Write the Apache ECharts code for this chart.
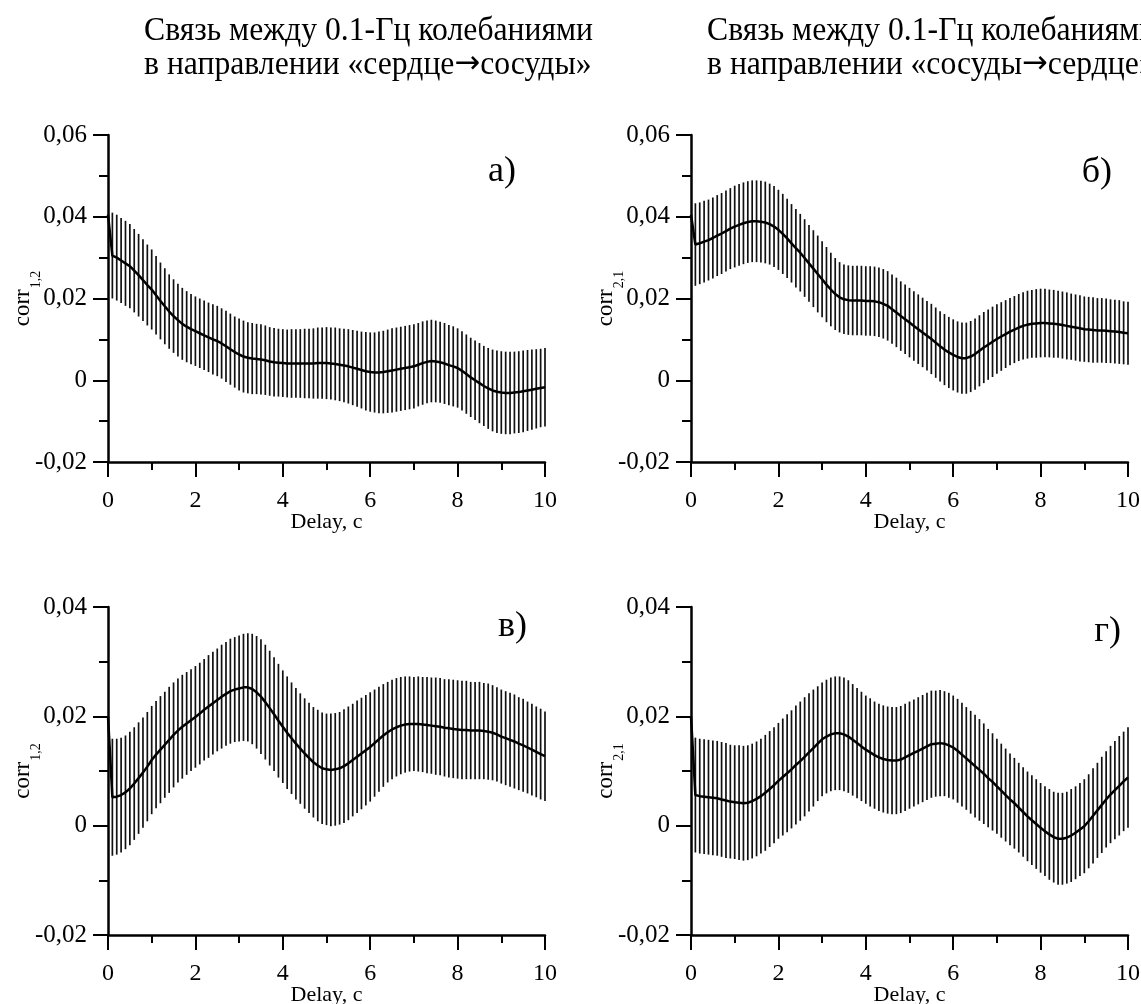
<!DOCTYPE html>
<html><head><meta charset="utf-8">
<script src="https://cdn.jsdelivr.net/npm/echarts@6/dist/echarts.min.js"></script>
<style>html,body{margin:0;padding:0;background:#fff}#c{width:1141px;height:1004px}</style>
</head><body><div id="c"></div>
<script>
// ---- data ----
const TITLE_LEFT = ['Связь между 0.1-Гц колебаниями', 'в направлении «сердце', '→', 'сосуды»'];
const TITLE_RIGHT = ['Связь между 0.1-Гц колебаниями', 'в направлении «сосуды', '→', 'сердце»'];
const PANEL_LABELS = ['а)', 'б)', 'в)', 'г)'];
const X_NAME = 'Delay, c';
// delays of the error-bar samples: 0.1 … 10 s, step 0.1 s
const DELAYS = Array.from({length: 100}, (_, i) => +((i + 1) / 10).toFixed(1));
// value of each curve at delay 0
const START_A = 0.0405, START_B = 0.0405, START_C = 0.0200, START_D = 0.0200;

const MEAN_A = [0.0305,0.0300,0.0293,0.0286,0.0279,0.0268,0.0257,0.0245,0.0233,0.0222,
 0.0208,0.0194,0.0181,0.0168,0.0157,0.0147,0.0138,0.0131,0.0125,0.0120,
 0.0115,0.0110,0.0105,0.0100,0.0096,0.0090,0.0083,0.0076,0.0069,0.0063,
 0.0058,0.0055,0.0053,0.0052,0.0051,0.0049,0.0046,0.0044,0.0043,0.0042,
 0.0041,0.0041,0.0041,0.0041,0.0041,0.0041,0.0041,0.0042,0.0042,0.0042,
 0.0041,0.0040,0.0038,0.0036,0.0034,0.0031,0.0028,0.0025,0.0022,0.0020,
 0.0019,0.0019,0.0020,0.0022,0.0024,0.0026,0.0028,0.0030,0.0032,0.0034,
 0.0038,0.0042,0.0045,0.0047,0.0046,0.0044,0.0041,0.0037,0.0034,0.0030,
 0.0023,0.0015,0.0007,0.0000,-0.0007,-0.0014,-0.0020,-0.0025,-0.0028,-0.0030,
 -0.0031,-0.0031,-0.0030,-0.0029,-0.0027,-0.0025,-0.0023,-0.0021,-0.0019,-0.0017];
const ERR_A = [0.0105,0.0105,0.0104,0.0104,0.0103,0.0102,0.0101,0.0100,0.0099,0.0098,
 0.0096,0.0094,0.0093,0.0091,0.0090,0.0089,0.0088,0.0087,0.0086,0.0085,
 0.0085,0.0085,0.0085,0.0086,0.0086,0.0086,0.0087,0.0087,0.0087,0.0088,
 0.0088,0.0087,0.0087,0.0086,0.0086,0.0085,0.0084,0.0084,0.0083,0.0083,
 0.0083,0.0084,0.0084,0.0084,0.0085,0.0085,0.0086,0.0087,0.0087,0.0088,
 0.0088,0.0089,0.0089,0.0090,0.0091,0.0092,0.0093,0.0094,0.0096,0.0097,
 0.0098,0.0100,0.0101,0.0102,0.0103,0.0103,0.0103,0.0103,0.0103,0.0103,
 0.0102,0.0102,0.0101,0.0101,0.0100,0.0099,0.0099,0.0098,0.0098,0.0097,
 0.0097,0.0097,0.0097,0.0097,0.0098,0.0098,0.0099,0.0100,0.0101,0.0101,
 0.0101,0.0101,0.0100,0.0100,0.0100,0.0099,0.0098,0.0097,0.0096,0.0096];

const MEAN_B = [0.0332,0.0335,0.0339,0.0343,0.0348,0.0354,0.0359,0.0365,0.0371,0.0376,
 0.0380,0.0384,0.0387,0.0389,0.0389,0.0388,0.0386,0.0382,0.0376,0.0368,
 0.0358,0.0347,0.0335,0.0323,0.0312,0.0299,0.0286,0.0273,0.0260,0.0247,
 0.0234,0.0222,0.0211,0.0203,0.0198,0.0196,0.0195,0.0195,0.0195,0.0194,
 0.0194,0.0193,0.0191,0.0187,0.0182,0.0174,0.0166,0.0157,0.0149,0.0141,
 0.0133,0.0125,0.0117,0.0109,0.0101,0.0092,0.0083,0.0075,0.0068,0.0062,
 0.0057,0.0054,0.0054,0.0058,0.0064,0.0072,0.0080,0.0087,0.0094,0.0101,
 0.0107,0.0113,0.0119,0.0124,0.0129,0.0133,0.0136,0.0138,0.0139,0.0140,
 0.0140,0.0139,0.0138,0.0137,0.0135,0.0133,0.0131,0.0129,0.0127,0.0125,
 0.0124,0.0123,0.0122,0.0122,0.0121,0.0120,0.0119,0.0118,0.0116,0.0115];
const ERR_B = [0.0101,0.0100,0.0100,0.0099,0.0099,0.0099,0.0099,0.0099,0.0099,0.0100,
 0.0100,0.0100,0.0100,0.0100,0.0100,0.0100,0.0100,0.0099,0.0099,0.0098,
 0.0098,0.0097,0.0096,0.0096,0.0095,0.0095,0.0094,0.0094,0.0094,0.0093,
 0.0092,0.0090,0.0088,0.0086,0.0085,0.0085,0.0085,0.0085,0.0085,0.0085,
 0.0085,0.0085,0.0085,0.0085,0.0085,0.0085,0.0085,0.0085,0.0085,0.0085,
 0.0085,0.0085,0.0085,0.0085,0.0086,0.0086,0.0086,0.0087,0.0087,0.0087,
 0.0087,0.0087,0.0087,0.0087,0.0087,0.0087,0.0087,0.0086,0.0086,0.0085,
 0.0084,0.0083,0.0082,0.0082,0.0082,0.0082,0.0083,0.0083,0.0084,0.0084,
 0.0084,0.0083,0.0083,0.0082,0.0082,0.0082,0.0081,0.0081,0.0081,0.0080,
 0.0080,0.0080,0.0079,0.0079,0.0079,0.0078,0.0078,0.0078,0.0077,0.0077];

const MEAN_C = [0.0052,0.0053,0.0056,0.0061,0.0068,0.0077,0.0087,0.0097,0.0108,0.0120,
 0.0130,0.0139,0.0148,0.0157,0.0166,0.0174,0.0181,0.0187,0.0193,0.0199,
 0.0205,0.0212,0.0218,0.0224,0.0230,0.0236,0.0241,0.0246,0.0249,0.0251,
 0.0253,0.0253,0.0250,0.0244,0.0236,0.0226,0.0215,0.0204,0.0192,0.0181,
 0.0170,0.0160,0.0150,0.0141,0.0132,0.0124,0.0116,0.0110,0.0105,0.0103,
 0.0102,0.0103,0.0105,0.0109,0.0114,0.0120,0.0126,0.0132,0.0138,0.0144,
 0.0151,0.0158,0.0165,0.0171,0.0176,0.0180,0.0183,0.0185,0.0186,0.0186,
 0.0186,0.0185,0.0184,0.0183,0.0182,0.0181,0.0179,0.0178,0.0177,0.0176,
 0.0175,0.0175,0.0174,0.0174,0.0174,0.0173,0.0172,0.0170,0.0167,0.0163,
 0.0160,0.0157,0.0154,0.0150,0.0147,0.0143,0.0139,0.0135,0.0131,0.0127];
const ERR_C = [0.0107,0.0106,0.0105,0.0104,0.0104,0.0103,0.0102,0.0101,0.0100,0.0099,
 0.0098,0.0098,0.0097,0.0097,0.0096,0.0095,0.0095,0.0094,0.0093,0.0093,
 0.0093,0.0093,0.0094,0.0094,0.0094,0.0095,0.0095,0.0096,0.0096,0.0097,
 0.0098,0.0099,0.0101,0.0103,0.0105,0.0105,0.0105,0.0104,0.0104,0.0103,
 0.0103,0.0102,0.0102,0.0101,0.0101,0.0101,0.0101,0.0102,0.0102,0.0102,
 0.0103,0.0103,0.0103,0.0104,0.0104,0.0103,0.0103,0.0102,0.0101,0.0100,
 0.0098,0.0096,0.0094,0.0092,0.0091,0.0090,0.0089,0.0088,0.0087,0.0086,
 0.0087,0.0087,0.0088,0.0088,0.0089,0.0089,0.0089,0.0090,0.0090,0.0090,
 0.0090,0.0090,0.0089,0.0089,0.0089,0.0088,0.0088,0.0087,0.0086,0.0086,
 0.0086,0.0086,0.0086,0.0085,0.0085,0.0084,0.0084,0.0083,0.0083,0.0082];

const MEAN_D = [0.0056,0.0054,0.0053,0.0052,0.0051,0.0050,0.0048,0.0046,0.0044,0.0043,
 0.0042,0.0041,0.0042,0.0045,0.0049,0.0054,0.0060,0.0067,0.0074,0.0082,
 0.0089,0.0096,0.0103,0.0111,0.0118,0.0126,0.0134,0.0142,0.0150,0.0158,
 0.0163,0.0167,0.0169,0.0169,0.0167,0.0163,0.0157,0.0151,0.0145,0.0139,
 0.0134,0.0129,0.0125,0.0122,0.0120,0.0119,0.0119,0.0121,0.0125,0.0129,
 0.0133,0.0137,0.0141,0.0145,0.0149,0.0150,0.0151,0.0150,0.0147,0.0143,
 0.0137,0.0130,0.0123,0.0116,0.0109,0.0102,0.0095,0.0087,0.0080,0.0072,
 0.0064,0.0056,0.0048,0.0041,0.0033,0.0025,0.0017,0.0010,0.0003,-0.0004,
 -0.0010,-0.0016,-0.0021,-0.0024,-0.0024,-0.0022,-0.0018,-0.0013,-0.0007,-0.0001,
 0.0008,0.0018,0.0028,0.0038,0.0048,0.0057,0.0065,0.0073,0.0081,0.0088];
const ERR_D = [0.0105,0.0105,0.0105,0.0105,0.0105,0.0105,0.0105,0.0105,0.0104,0.0104,
 0.0105,0.0105,0.0105,0.0105,0.0105,0.0105,0.0106,0.0106,0.0106,0.0106,
 0.0107,0.0108,0.0108,0.0109,0.0109,0.0109,0.0108,0.0107,0.0105,0.0104,
 0.0104,0.0104,0.0104,0.0104,0.0104,0.0103,0.0102,0.0101,0.0100,0.0099,
 0.0099,0.0098,0.0098,0.0098,0.0098,0.0098,0.0098,0.0098,0.0098,0.0098,
 0.0098,0.0098,0.0098,0.0098,0.0098,0.0097,0.0097,0.0096,0.0096,0.0095,
 0.0095,0.0095,0.0094,0.0094,0.0094,0.0093,0.0092,0.0090,0.0089,0.0087,
 0.0086,0.0085,0.0084,0.0083,0.0082,0.0082,0.0082,0.0082,0.0082,0.0082,
 0.0082,0.0083,0.0083,0.0084,0.0084,0.0084,0.0085,0.0085,0.0085,0.0086,
 0.0086,0.0087,0.0087,0.0088,0.0088,0.0089,0.0090,0.0091,0.0091,0.0092];

const Y_RANGES = [[-0.02, 0.06], [-0.02, 0.06], [-0.02, 0.04], [-0.02, 0.04]];
const Y_SUBS = ['1,2', '2,1', '1,2', '2,1'];

// ---- chart ----
const FONT = '"Liberation Serif", "Times New Roman", serif';
const GRIDS = [
  {left: 108, top: 135, width: 437, height: 327, outerBoundsMode: 'none', containLabel: false},
  {left: 691, top: 135, width: 437, height: 327, outerBoundsMode: 'none', containLabel: false},
  {left: 108, top: 607, width: 437, height: 328, outerBoundsMode: 'none', containLabel: false},
  {left: 691, top: 607, width: 437, height: 328, outerBoundsMode: 'none', containLabel: false}
];
const PANELS = [
  {start: START_A, mean: MEAN_A, err: ERR_A},
  {start: START_B, mean: MEAN_B, err: ERR_B},
  {start: START_C, mean: MEAN_C, err: ERR_C},
  {start: START_D, mean: MEAN_D, err: ERR_D}
];
const LABEL_POS = [[516, 172], [1112, 173], [527, 627], [1121, 632]];

const fmt = v => {
  if (Math.abs(v) < 1e-9) return '0';
  return v.toFixed(2).replace('.', ',');
};
const axisLineStyle = {color: '#000', width: 2.5};

const xAxes = GRIDS.map((g, i) => ({
  type: 'value', gridIndex: i, min: 0, max: 10, interval: 2,
  axisLine: {show: true, onZero: false, lineStyle: axisLineStyle},
  axisTick: {show: true, length: 15, lineStyle: {color: '#000', width: 2}},
  minorTick: {show: true, splitNumber: 2, length: 8, lineStyle: {color: '#000', width: 2}},
  splitLine: {show: false},
  axisLabel: {color: '#000', fontFamily: FONT, fontSize: 24, margin: 27, hideOverlap: false},
  name: X_NAME, nameLocation: 'middle', nameGap: 49, nameMoveOverlap: false,
  nameTextStyle: {color: '#000', fontFamily: FONT, fontSize: 22}
}));
const yAxes = GRIDS.map((g, i) => ({
  type: 'value', gridIndex: i, min: Y_RANGES[i][0], max: Y_RANGES[i][1], interval: 0.02,
  axisLine: {show: true, onZero: false, lineStyle: axisLineStyle},
  axisTick: {show: true, length: 15, lineStyle: {color: '#000', width: 2}},
  minorTick: {show: true, splitNumber: 2, length: 9, lineStyle: {color: '#000', width: 2}},
  splitLine: {show: false},
  axisLabel: {color: '#000', fontFamily: FONT, fontSize: 25, margin: 21, formatter: fmt},
  name: '{a|corr}{s|' + Y_SUBS[i] + '}', nameLocation: 'middle', nameGap: 65, nameMoveOverlap: false,
  nameTextStyle: {
    color: '#000', fontFamily: FONT,
    rich: {
      a: {fontFamily: FONT, fontSize: 23, color: '#000', lineHeight: 32, verticalAlign: 'top'},
      s: {fontFamily: FONT, fontSize: 14, color: '#000', lineHeight: 32, verticalAlign: 'top', padding: [18, 0, 0, 1]}
    }
  }
}));

const series = [];
PANELS.forEach((p, i) => {
  series.push({
    type: 'custom', xAxisIndex: i, yAxisIndex: i, silent: true,
    data: DELAYS.map((d, k) => [d, p.mean[k] - p.err[k], p.mean[k] + p.err[k]]),
    encode: {x: 0, y: [1, 2]},
    renderItem: (params, api) => {
      const x = api.value(0);
      const a = api.coord([x, api.value(1)]);
      const b = api.coord([x, api.value(2)]);
      return {type: 'line', shape: {x1: a[0], y1: a[1], x2: b[0], y2: b[1]},
              style: {stroke: '#111', lineWidth: 1.7}};
    }
  });
  series.push({
    type: 'line', xAxisIndex: i, yAxisIndex: i, silent: true, showSymbol: false, z: 5,
    data: [[0, p.start]].concat(DELAYS.map((d, k) => [d, p.mean[k]])),
    lineStyle: {color: '#000', width: 2.5}
  });
});

const TITLE_FS = 33;
const titleRich = {
  t: {fontFamily: 'Liberation Serif', fontSize: TITLE_FS, fill: '#000', lineHeight: 34},
  r: {fontFamily: 'DejaVu Sans', fontSize: 32, fill: '#000', lineHeight: 34}
};
function titleText(parts, x) {
  return {
    type: 'text', x: x, y: 14, scaleX: 0.96, silent: true,
    style: {
      text: '{t|' + parts[0] + '}\n{t|' + parts[1] + '}{r|' + parts[2] + '}{t|' + parts[3] + '}',
      rich: titleRich, fontFamily: 'Liberation Serif', fontSize: TITLE_FS, lineHeight: 34,
      fill: '#000', align: 'left', verticalAlign: 'top'
    }
  };
}

const option = {
  backgroundColor: '#fff',
  animation: false,
  grid: GRIDS,
  xAxis: xAxes,
  yAxis: yAxes,
  series: series,
  graphic: [titleText(TITLE_LEFT, 144), titleText(TITLE_RIGHT, 707)].concat(PANEL_LABELS.map((t, i) => ({
    type: 'text', x: LABEL_POS[i][0], y: LABEL_POS[i][1], silent: true,
    style: {text: t, fontFamily: 'Liberation Serif', fontSize: 36, fill: '#000',
            align: 'right', verticalAlign: 'middle'}
  })))
};
const chart = echarts.init(document.getElementById('c'), null, {renderer: 'canvas'});
chart.setOption(option);
</script>
</body></html>
